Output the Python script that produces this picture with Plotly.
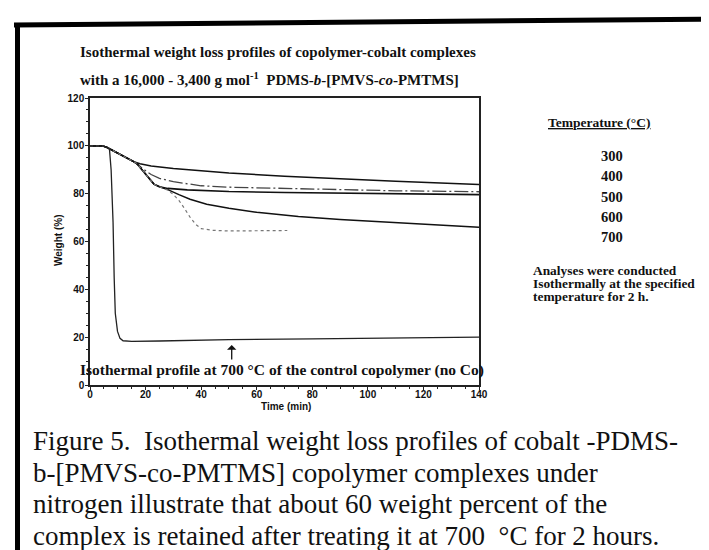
import plotly.graph_objects as go

# ---------------- data ----------------
t_300 = [0, 4.7, 6, 8, 10, 12, 14, 16, 18, 22, 30, 40, 50, 70, 90, 110, 140]
w_300 = [100, 99.9, 99.4, 98.2, 96.9, 95.8, 94.6, 93.3, 92.5, 91.6, 90.5, 89.5, 88.6, 87.3, 86.2, 85.2, 83.8]

t_400 = [0, 4.7, 6, 8, 10, 12, 14, 16, 17, 19, 22, 25, 30, 40, 50, 70, 90, 110, 140]
w_400 = [100, 99.9, 99.4, 98.2, 96.9, 95.8, 94.6, 93.2, 92.4, 90.4, 88.0, 86.4, 85.0, 83.3, 82.7, 82.1, 81.6, 81.2, 80.8]

t_500 = [0, 4.7, 6, 8, 10, 12, 14, 16, 17, 19, 21, 23, 25, 28, 35, 50, 70, 100, 140]
w_500 = [100, 99.9, 99.4, 98.2, 96.9, 95.8, 94.6, 93.2, 92.4, 89.6, 86.6, 84.0, 82.9, 82.2, 81.6, 80.9, 80.5, 80.0, 79.6]

t_600 = [0, 4.7, 6, 8, 10, 12, 14, 16, 17, 19, 21, 23, 25, 28, 32, 36, 42, 50, 60, 75, 90, 110, 125, 140]
w_600 = [100, 99.9, 99.4, 98.2, 96.9, 95.8, 94.6, 93.2, 92.4, 89.6, 86.6, 84.0, 82.9, 81.7, 79.6, 77.7, 75.6, 73.9, 72.2, 70.5, 69.2, 67.8, 66.8, 66.0]

t_700 = [0, 4.7, 6, 8, 10, 12, 14, 16, 17, 19, 21, 23, 25, 28, 30, 32, 34, 36, 38, 40, 44, 50, 60, 71]
w_700 = [100, 99.9, 99.4, 98.2, 96.9, 95.8, 94.6, 93.2, 92.4, 89.6, 86.6, 84.0, 82.9, 81.5, 79.6, 77.2, 73.8, 70.2, 67.2, 65.4, 64.7, 64.4, 64.5, 64.6]

t_ctrl = [0, 4.7, 6, 7, 7.6, 8.3, 8.7, 9.1, 9.9, 10.8, 11.9, 15, 25, 35, 50, 80, 110, 140]
w_ctrl = [100, 99.9, 99.4, 98.7, 90, 68, 45, 30, 22.4, 19.5, 18.5, 18.2, 18.4, 18.7, 19.0, 19.3, 19.6, 20.0]

temps = ["300", "400", "500", "600", "700"]
x_ticks = [0, 20, 40, 60, 80, 100, 120, 140]
y_ticks = [0, 20, 40, 60, 80, 100, 120]

# ---------------- layout geometry (pixels) ----------------
W, H = 709, 550
PL, PR, PT, PB = 82, 471, 90, 377


def px(x):
    return (x - PL) / (PR - PL)


def py(y):
    return (PB - y) / (PB - PT)


SERIF = "Liberation Serif, Times New Roman, serif"
NARROW = "Liberation Sans Narrow, Arial Narrow, Liberation Sans, Arial, sans-serif"

fig = go.Figure()

series = [
    ("300", t_300, w_300, dict(color="#111", width=1.5)),
    ("400", t_400, w_400, dict(color="#444", width=1.3, dash="14px,3px,2px,3px")),
    ("500", t_500, w_500, dict(color="#111", width=1.6)),
    ("600", t_600, w_600, dict(color="#111", width=1.5)),
    ("700", t_700, w_700, dict(color="#777", width=1.2, dash="dot")),
    ("control", t_ctrl, w_ctrl, dict(color="#222", width=1.3)),
]
for name, t, w, ln in series:
    fig.add_trace(go.Scatter(x=t, y=w, mode="lines", name=name, line=ln,
                             showlegend=False, hoverinfo="skip"))

axis_common = dict(
    showgrid=False, zeroline=False, showline=True, linecolor="#222", linewidth=1.5,
    mirror=True, ticks="outside", ticklen=3, tickwidth=1.2, tickcolor="#222",
    tickfont=dict(family=NARROW, size=10, color="#111", weight="bold"),
)
fig.update_xaxes(range=[0, 140], tickvals=x_ticks, ticktext=[str(v) for v in x_ticks],
                 minor=dict(dtick=5, ticklen=2, tickcolor="#222", ticks="outside"),
                 ticklabelstandoff=-4, **axis_common)
fig.update_yaxes(range=[0, 120], tickvals=y_ticks, ticktext=[str(v) for v in y_ticks],
                 minor=dict(dtick=5, ticklen=2, tickcolor="#222", ticks="outside"),
                 ticklabelstandoff=-1, **axis_common)

ann = []


def add_text(text, x, y, size, family=SERIF, xanchor="left", yanchor="middle",
             color="#111", textangle=0, align="left"):
    ann.append(dict(text=text, x=px(x), y=py(y), xref="paper", yref="paper",
                    xanchor=xanchor, yanchor=yanchor, showarrow=False, align=align,
                    textangle=textangle,
                    font=dict(family=family, size=size, color=color)))


add_text("<b>Isothermal weight loss profiles of copolymer-cobalt complexes</b>", 70, 44, 15)
add_text("<b>with a 16,000 - 3,400 g mol<sup>-1</sup>  PDMS-<i>b</i>-[PMVS-<i>co</i>-PMTMS]</b>", 70, 71, 15)

add_text("<b>Weight (%)</b>", 50, 233, 10, family=NARROW, xanchor="center", textangle=-90)
add_text("<b>Time (min)</b>", 278, 398, 10, family=NARROW, xanchor="center")

add_text("<b>Isothermal profile at 700 °C of the control copolymer (no Co)</b>", 70, 362, 15.5)

add_text("<b><u>Temperature (°C)</u></b>", 591, 114, 13.5, xanchor="center")
for i, tp in enumerate(temps):
    add_text("<b>" + tp + "</b>", 604, 148 + i * 20.3, 14.5, xanchor="center")

notes = ["Analyses were conducted", "Isothermally at the specified", "temperature for 2 h."]
for i, line in enumerate(notes):
    add_text("<b>" + line + "</b>", 523, 262 + i * 13, 13.4)

caption = ["Figure 5.  Isothermal weight loss profiles of cobalt -PDMS-",
           "b-[PMVS-co-PMTMS] copolymer complexes under",
           "nitrogen illustrate that about 60 weight percent of the",
           "complex is retained after treating it at 700  \u00b0C for 2 hours."]
for i, line in enumerate(caption):
    add_text(line, 23, 433 + i * 31.5, 27)

# control arrow
ann.append(dict(x=51, y=py(337), ax=0, ay=16, xref="x", yref="paper", axref="pixel", ayref="pixel",
                showarrow=True, arrowhead=1, arrowsize=1.2, arrowwidth=1.3, arrowcolor="#111", text=""))

shapes = [
    dict(type="line", xref="paper", yref="paper", x0=px(6), y0=py(17), x1=px(709), y1=py(11),
         line=dict(color="black", width=5)),
    dict(type="line", xref="paper", yref="paper", x0=px(9.5), y0=py(15), x1=px(9.5), y1=py(549),
         line=dict(color="black", width=5)),
    dict(type="line", xref="paper", yref="paper", x0=px(6), y0=py(547), x1=px(709), y1=py(547),
         line=dict(color="black", width=4)),
]

fig.update_layout(
    width=W, height=H,
    margin=dict(l=PL, r=W - PR, t=PT, b=H - PB, autoexpand=False),
    paper_bgcolor="white", plot_bgcolor="white",
    annotations=ann, shapes=shapes, showlegend=False,
)

fig.write_html("out.html")
